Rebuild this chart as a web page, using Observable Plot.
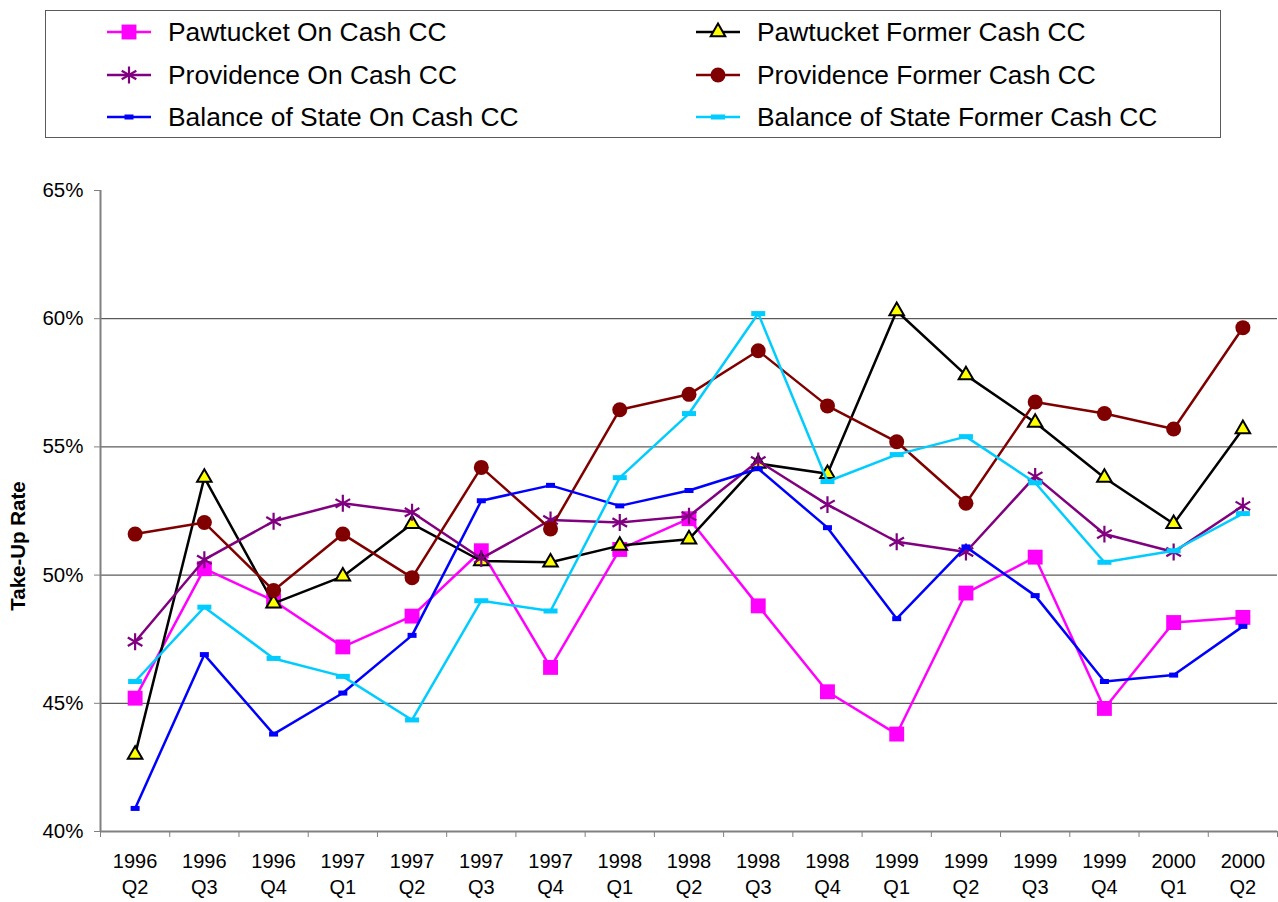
<!DOCTYPE html>
<html><head><meta charset="utf-8">
<script src="https://cdn.jsdelivr.net/npm/d3@7"></script>
<script src="https://cdn.jsdelivr.net/npm/@observablehq/plot@0.6"></script>
<style>
body{margin:0;background:#fff;font-family:"Liberation Sans",Arial,sans-serif;}
#wrap{position:relative;width:1278px;height:902px;overflow:hidden;}
#legend{position:relative;width:1278px;height:150px;}
#box{position:absolute;left:45px;top:10px;width:1176px;height:128px;border:1px solid #5a5a5a;box-sizing:border-box;}
.lt{position:absolute;font-size:26.4px;line-height:26px;height:26px;color:#000;white-space:nowrap;}
.ls{position:absolute;}
#chart svg{display:block;}
</style></head><body>
<div id="wrap"><div id="legend"><div id="box"></div></div><div id="chart"></div></div>
<script>
// ---- data ----
const quarterLabels = ["1996\nQ2","1996\nQ3","1996\nQ4","1997\nQ1","1997\nQ2","1997\nQ3","1997\nQ4","1998\nQ1","1998\nQ2","1998\nQ3","1998\nQ4","1999\nQ1","1999\nQ2","1999\nQ3","1999\nQ4","2000\nQ1","2000\nQ2"];
const seriesNames = ["Pawtucket On Cash CC","Pawtucket Former Cash CC","Providence On Cash CC","Providence Former Cash CC","Balance of State On Cash CC","Balance of State Former Cash CC"];
const pawtucketOn     = [45.2, 50.25, 49.0, 47.2, 48.4, 50.95, 46.4, 51.0, 52.2, 48.8, 45.45, 43.8, 49.3, 50.7, 44.8, 48.15, 48.35];
const pawtucketFormer = [43.0, 53.8, 48.9, 49.95, 52.0, 50.55, 50.5, 51.15, 51.4, 54.35, 53.95, 60.3, 57.8, 55.95, 53.8, 52.0, 55.7];
const providenceOn    = [47.4, 50.6, 52.1, 52.8, 52.45, 50.65, 52.15, 52.05, 52.3, 54.45, 52.75, 51.3, 50.9, 53.85, 51.6, 50.9, 52.7];
const providenceFormer= [51.6, 52.05, 49.4, 51.6, 49.9, 54.2, 51.8, 56.45, 57.05, 58.75, 56.6, 55.2, 52.8, 56.75, 56.3, 55.7, 59.65];
const stateOn         = [40.9, 46.9, 43.8, 45.4, 47.65, 52.9, 53.5, 52.7, 53.3, 54.15, 51.85, 48.3, 51.1, 49.2, 45.85, 46.1, 48.0];
const stateFormer     = [45.85, 48.75, 46.75, 46.05, 44.35, 49.0, 48.6, 53.8, 56.3, 60.2, 53.65, 54.7, 55.4, 53.6, 50.5, 50.95, 52.4];
const yTicks = [40, 45, 50, 55, 60, 65];
const gridValues = [45, 50, 55, 60];

// ---- styles ----
const rectSymbol = (w, h) => ({draw(ctx) { ctx.rect(-w / 2, -h / 2, w, h); }});
const styles = [
  {line: "#FF00FF", symbol: "square", r: 8.4, fill: "#FF00FF", stroke: "none", sw: 0},
  {line: "#000000", symbol: "triangle", r: 5.4, fill: "#FFFF00", stroke: "#000000", sw: 2},
  {line: "#800080", symbol: "asterisk", r: 8, fill: "none", stroke: "#800080", sw: 2.2},
  {line: "#800000", symbol: "circle", r: 7.5, fill: "#800000", stroke: "none", sw: 0},
  {line: "#0000FF", symbol: rectSymbol(9, 5), r: 5, fill: "#0000FF", stroke: "none", sw: 0},
  {line: "#00CCFF", symbol: rectSymbol(14, 5), r: 5, fill: "#00CCFF", stroke: "none", sw: 0}
];
const allValues = [pawtucketOn, pawtucketFormer, providenceOn, providenceFormer, stateOn, stateFormer];

const seriesMarks = [];
allValues.forEach((vals, k) => {
  const st = styles[k];
  const rows = vals.map((v, i) => ({i, v}));
  seriesMarks.push(Plot.line(rows, {x: "i", y: "v", stroke: st.line, strokeWidth: 2.5}));
  seriesMarks.push(Plot.dot(rows, {x: "i", y: "v", symbol: st.symbol, r: st.r, fill: st.fill, stroke: st.stroke, strokeWidth: st.sw, strokeOpacity: 1, fillOpacity: 1}));
});

const chart = Plot.plot({
  width: 1278,
  height: 752,
  marginLeft: 100,
  marginRight: 1,
  marginTop: 40,
  marginBottom: 71,
  style: {fontFamily: "'Liberation Sans', Arial, sans-serif", background: "#fff", overflow: "visible"},
  x: {type: "linear", domain: [-0.5, quarterLabels.length - 0.5]},
  y: {type: "linear", domain: [40, 65]},
  marks: [
    Plot.gridY(gridValues, {stroke: "#333333", strokeOpacity: 1, strokeWidth: 1}),
    Plot.axisY(yTicks, {tickSize: 6, tickPadding: 11, tickFormat: d => d + "%", fontSize: 20.5, stroke: "#808080", fill: "#000", label: null}),
    Plot.axisX(d3.range(-0.5, quarterLabels.length, 1), {tickSize: 6, tickFormat: () => "", stroke: "#808080", label: null}),
    Plot.axisX(d3.range(quarterLabels.length), {tickSize: 0, tickPadding: 18, tickFormat: i => quarterLabels[i], fontSize: 20, lineHeight: 1.3, fill: "#000", label: null}),
    Plot.ruleX([-0.5], {stroke: "#808080", strokeWidth: 2}),
    Plot.ruleY([40], {stroke: "#808080", strokeWidth: 2}),
    Plot.text(["Take-Up Rate"], {frameAnchor: "left", dx: -82, dy: 35, rotate: -90, textAnchor: "middle", fontWeight: "bold", fontSize: 20.5, fill: "#000"}),
    ...seriesMarks
  ]
});
document.getElementById("chart").appendChild(chart);

// ---- legend ----
const legend = document.getElementById("legend");
const rowsY = [32, 74.5, 117];
const colLine = [107, 696];
const colText = [168, 757];
seriesNames.forEach((name, k) => {
  const col = k % 2, row = Math.floor(k / 2);
  const st = styles[k];
  const cy = rowsY[row];
  const svg = d3.create("svg").attr("class", "ls").attr("width", 46).attr("height", 24)
    .style("left", colLine[col] + "px").style("top", (cy - 12) + "px");
  svg.append("line").attr("x1", 0).attr("x2", 44).attr("y1", 12).attr("y2", 12).attr("stroke", st.line).attr("stroke-width", 2.5);
  let path;
  if (typeof st.symbol === "string") {
    const sym = {square: d3.symbolSquare, triangle: d3.symbolTriangle, asterisk: d3.symbolAsterisk, circle: d3.symbolCircle}[st.symbol];
    path = d3.symbol(sym, Math.PI * st.r * st.r)();
  } else {
    path = d3.symbol(st.symbol, 1)();
  }
  svg.append("path").attr("d", path).attr("transform", "translate(22,12)")
    .attr("fill", st.fill).attr("stroke", st.stroke).attr("stroke-width", st.sw);
  legend.appendChild(svg.node());
  const t = document.createElement("div");
  t.className = "lt";
  t.style.left = colText[col] + "px";
  t.style.top = (cy - 12.7) + "px";
  t.textContent = name;
  legend.appendChild(t);
});
</script>
</body></html>
